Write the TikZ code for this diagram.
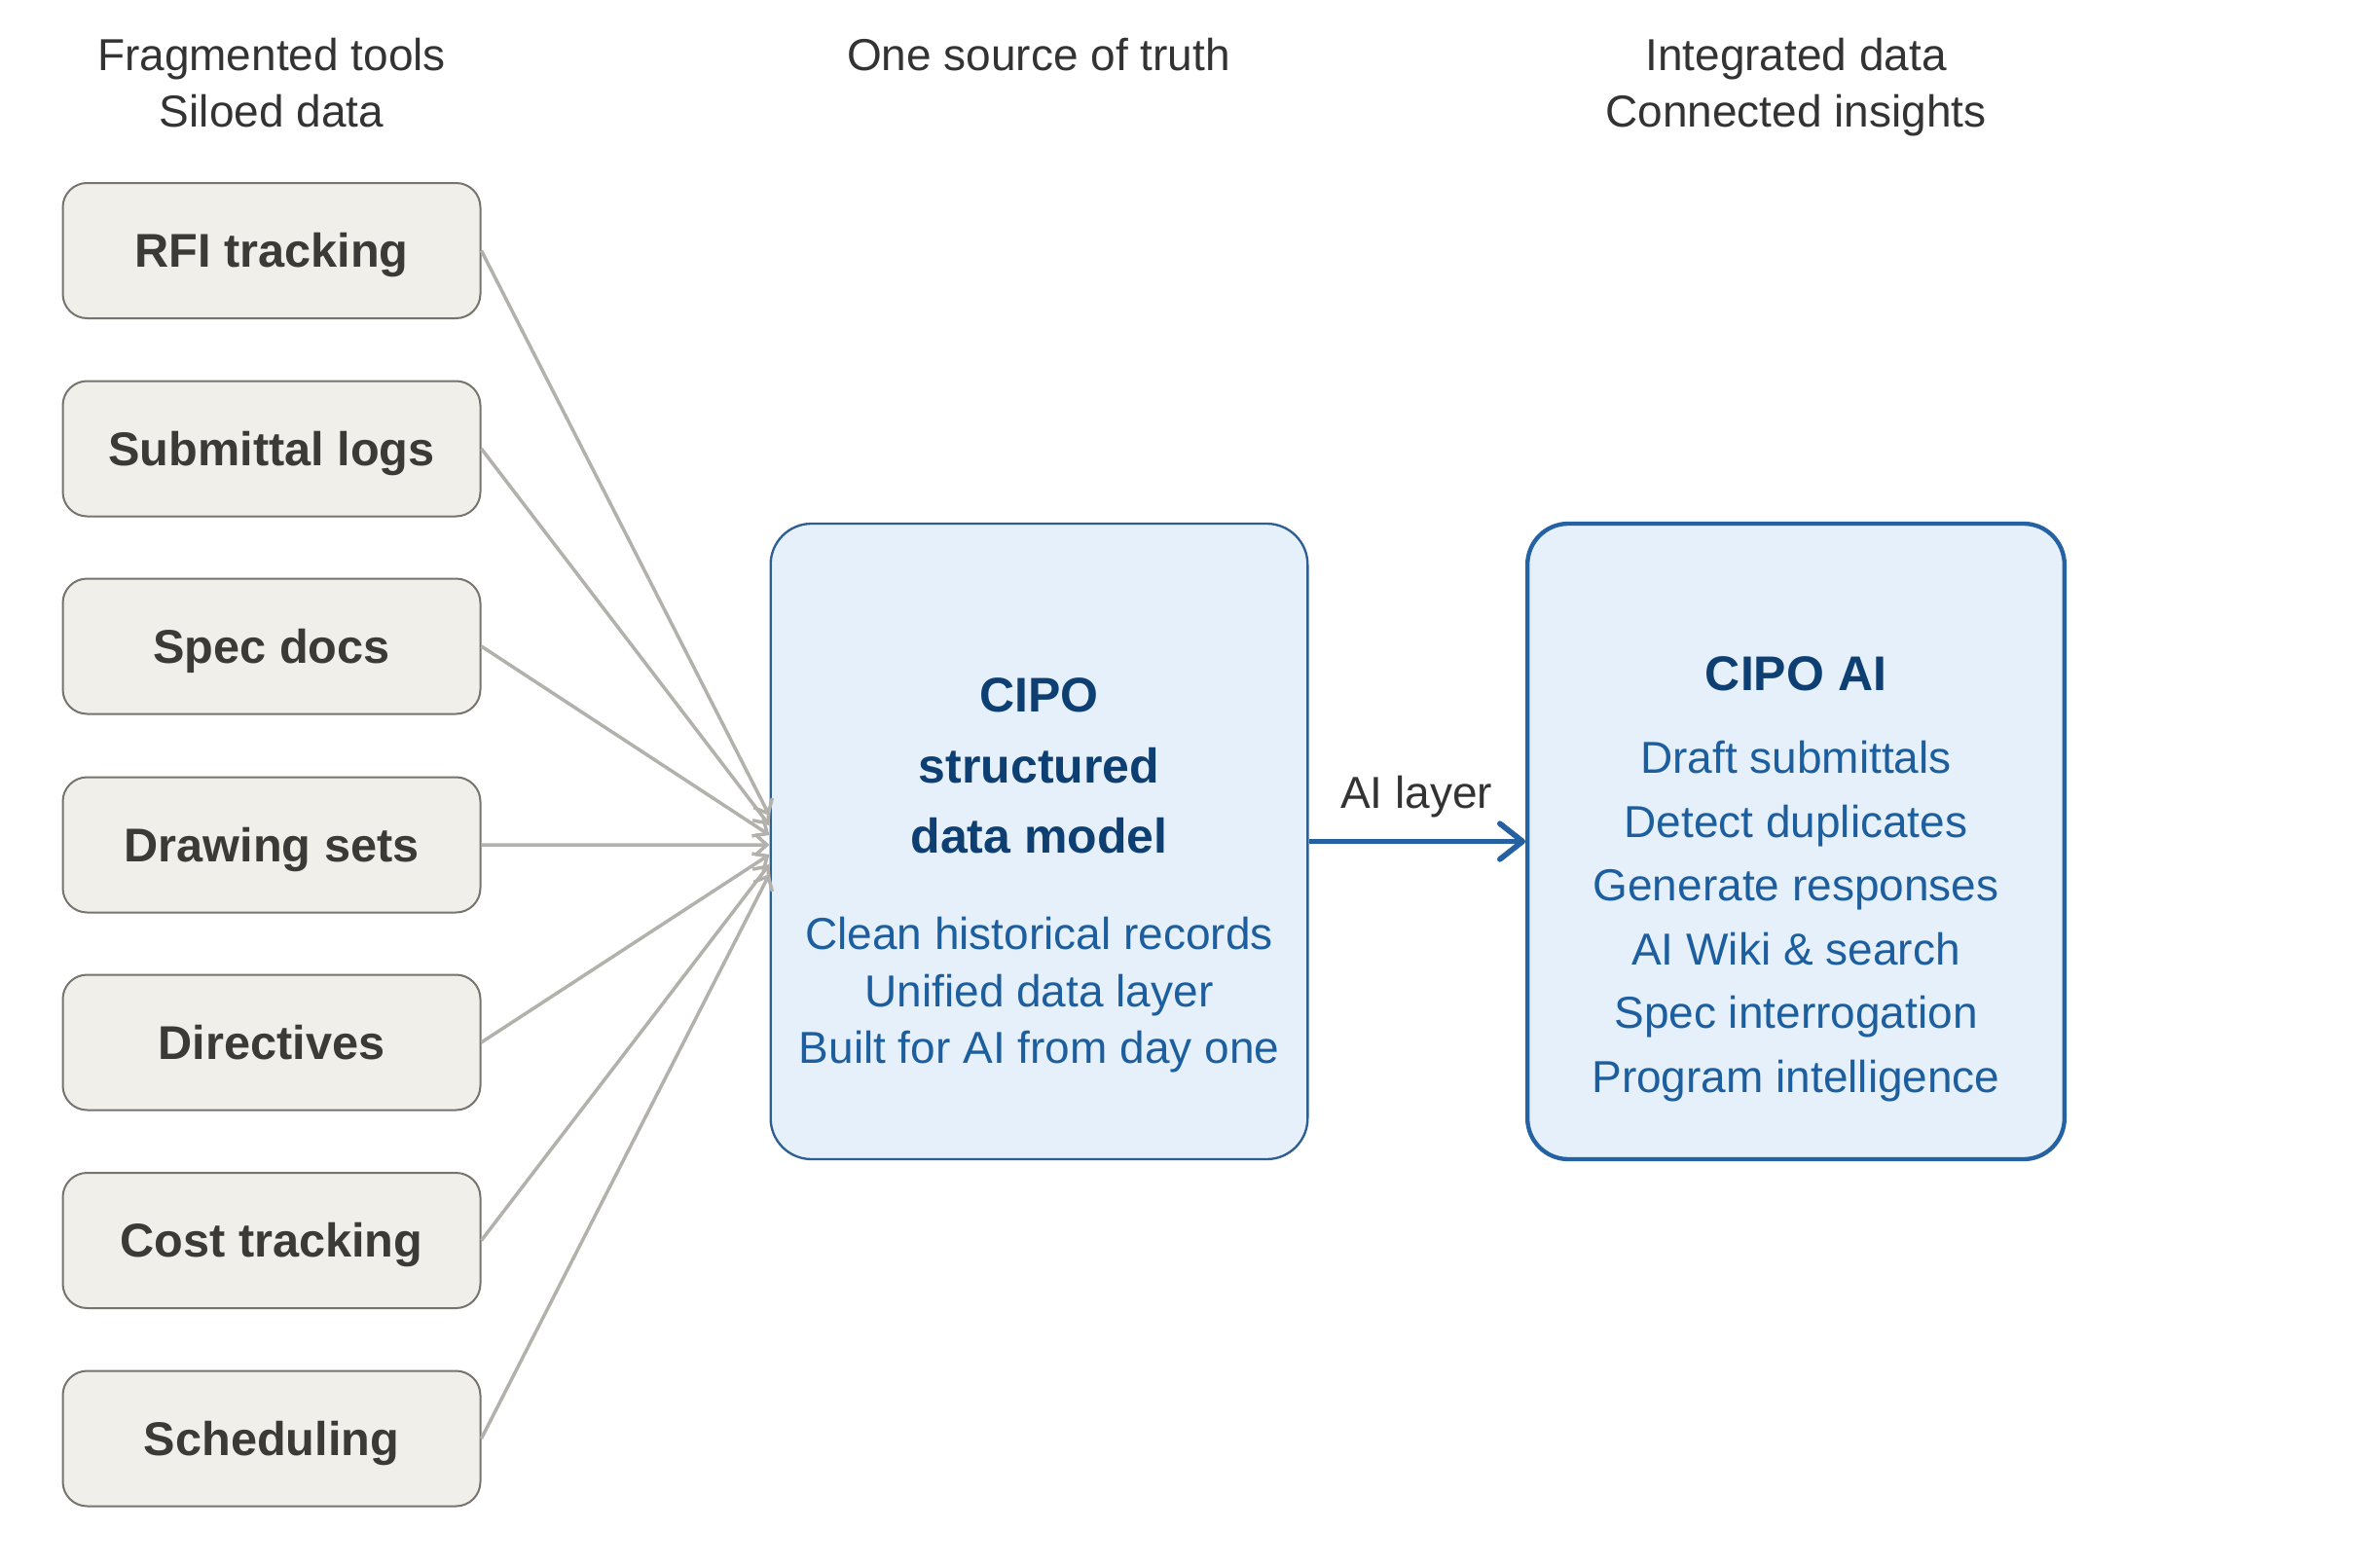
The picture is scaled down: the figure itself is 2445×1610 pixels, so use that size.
\documentclass[tikz,border=0pt]{standalone}
\usepackage{fontspec}
\setmainfont{Liberation Sans}
\usetikzlibrary{arrows.meta}
\definecolor{toolfill}{HTML}{F1EFEA}
\definecolor{toolborder}{HTML}{77736E}
\definecolor{tooltext}{HTML}{3C3A36}
\definecolor{linkgray}{HTML}{B3B1AB}
\definecolor{corefill}{HTML}{E6F0FA}
\definecolor{coreborder}{HTML}{2D5F94}
\definecolor{aiborder}{HTML}{2562A3}
\definecolor{titleblue}{HTML}{0E3F72}
\definecolor{listblue}{HTML}{1D5E9F}
\definecolor{hdrtext}{HTML}{333333}
\definecolor{arrowblue}{HTML}{2560A0}
\begin{document}
\begin{tikzpicture}[x=0.3pt,y=-0.3pt,
  tool/.style={draw=toolborder, fill=toolfill, line width=0.6pt, rounded corners=7.5pt,
    minimum width=128.7pt, minimum height=41.7pt, inner sep=0pt, text=tooltext,
    font=\fontsize{14.6}{17}\selectfont\bfseries, text height=10.45pt, text depth=0pt},
  bigbox/.style={fill=corefill, rounded corners=12.6pt, minimum width=165.5pt,
    minimum height=195.9pt, inner sep=0pt},
  hdr/.style={anchor=base, inner sep=0pt, text=hdrtext, font=\fontsize{13.8}{16}\selectfont},
  ttl/.style={anchor=base, inner sep=0pt, text=titleblue, font=\fontsize{15}{18}\selectfont\bfseries},
  lst/.style={anchor=base, inner sep=0pt, text=listblue, font=\fontsize{13.8}{16}\selectfont},
  feed/.style={draw=linkgray, line width=1.05pt, -{Straight Barb[length=3.6pt,width=6.4pt]}},
  flow/.style={draw=arrowblue, line width=1.7pt, -{Straight Barb[round,length=7pt,width=11pt]}}
]
\useasboundingbox (0,0) rectangle (2445,1610);
\fill[white] (0,0) rectangle (2445,1610);

% headers
\node[hdr] (h1a) at (279,72) {Fragmented tools};
\node[hdr] (h1b) at (279,130) {Siloed data};
\node[hdr] (h2a) at (1067,72) {One source of truth};
\node[hdr] (h3a) at (1845,72) {Integrated data};
\node[hdr] (h3b) at (1845,130) {Connected insights};

% tools
\node[tool] (t0) at (279,257.5) {RFI tracking};
\node[tool] (t1) at (279,461) {Submittal logs};
\node[tool] (t2) at (279,664) {Spec docs};
\node[tool] (t3) at (279,868) {Drawing sets};
\node[tool] (t4) at (279,1071) {Directives};
\node[tool] (t5) at (279,1274.5) {Cost tracking};
\node[tool] (t6) at (279,1478) {Scheduling};

% central boxes
\node[bigbox, draw=coreborder, line width=0.7pt] (core) at (1067.5,864.5) {};
\node[bigbox, draw=aiborder, line width=1.3pt] (ai) at (1845,864.5) {};

% core text
\node[ttl] (c1) at (1067.5,731) {CIPO};
\node[ttl] (c2) at (1067.5,804) {structured};
\node[ttl] (c3) at (1067.5,876) {data model};
\node[lst] (c4) at (1067.5,975) {Clean historical records};
\node[lst] (c5) at (1067.5,1034) {Unified data layer};
\node[lst] (c6) at (1067.5,1092) {Built for AI from day one};

% ai text
\node[ttl] (a0) at (1845,709) {CIPO AI};
\node[lst] (a1) at (1845,794) {Draft submittals};
\node[lst] (a2) at (1845,860) {Detect duplicates};
\node[lst] (a3) at (1845,925) {Generate responses};
\node[lst] (a4) at (1845,991) {AI Wiki \& search};
\node[lst] (a5) at (1845,1056) {Spec interrogation};
\node[lst] (a6) at (1845,1122) {Program intelligence};

% feeds
\foreach \i in {0,...,6}{
  \draw[feed] (t\i.east) -- ([yshift={(3-\i)*3pt-1.05pt}]core.west);
}

% AI layer arrow
\draw[flow] (core.east) -- (ai.west);
\node[hdr] (ail) at (1455,830) {AI layer};
\end{tikzpicture}
\end{document}
